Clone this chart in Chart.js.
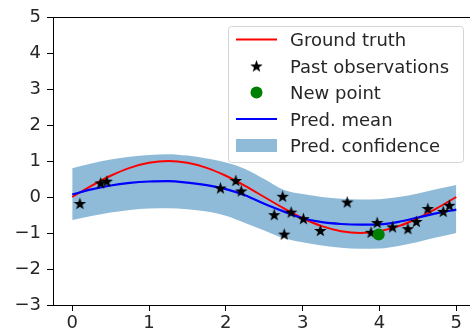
<!DOCTYPE html>
<html>
<head>
<meta charset="utf-8">
<script src="https://cdn.jsdelivr.net/npm/chart.js@4/dist/chart.umd.min.js"></script>
<style>
html,body{margin:0;padding:0;background:#fff;overflow:hidden;width:470px;height:331px;}
#wrap{position:absolute;left:0;top:0;width:483px;height:331px;}
</style>
</head>
<body>
<div id="wrap"><canvas id="c" width="483" height="331"></canvas></div>
<script>
// ---- data ----
const gridX = [0,0.25,0.5,0.75,1,1.25,1.5,1.75,2,2.25,2.5,2.75,3,3.25,3.5,3.75,4,4.25,4.5,4.75,5];
const truthY = [0,0.31,0.59,0.81,0.95,1.0,0.95,0.81,0.59,0.31,0,-0.31,-0.59,-0.81,-0.95,-1.0,-0.95,-0.81,-0.59,-0.31,0];
const meanY  = [0.07,0.21,0.32,0.39,0.43,0.44,0.40,0.33,0.22,0.05,-0.19,-0.40,-0.59,-0.70,-0.75,-0.77,-0.76,-0.69,-0.57,-0.45,-0.35];
const upperY = [0.80,0.93,1.04,1.12,1.17,1.19,1.15,1.07,0.96,0.78,0.50,0.20,0.08,0.00,-0.05,-0.07,-0.06,0.00,0.10,0.22,0.33];
const lowerY = [-0.64,-0.53,-0.43,-0.36,-0.32,-0.31,-0.34,-0.40,-0.52,-0.72,-0.93,-1.14,-1.26,-1.35,-1.41,-1.44,-1.43,-1.36,-1.25,-1.12,-1.00];
const obsX = [0.10,0.37,0.45,1.93,2.13,2.20,2.74,2.63,2.85,2.76,3.01,3.23,3.58,3.89,3.97,4.17,4.37,4.48,4.63,4.83,4.91];
const obsY = [-0.18,0.39,0.44,0.25,0.46,0.17,0.02,-0.49,-0.42,-1.03,-0.60,-0.93,-0.14,-0.98,-0.71,-0.83,-0.88,-0.68,-0.32,-0.40,-0.23];
const newX = [3.99];
const newY = [-1.04];
const xTicks = [0,1,2,3,4,5];
const yTicks = [-3,-2,-1,0,1,2,3,4,5];
const legendLabels = ["Ground truth","Past observations","New point","Pred. mean","Pred. confidence"];

const pts = (xs, ys) => xs.map((x,i)=>({x:x, y:ys[i]}));

// filled star marker (like matplotlib '*')
function makeStar(size){
  const c = document.createElement('canvas');
  c.width = size; c.height = size;
  const g = c.getContext('2d');
  const R = size/2, r = R*0.4, cx = size/2, cy = size/2 + 0.6;
  g.beginPath();
  for(let i=0;i<10;i++){
    const a = -Math.PI/2 + i*Math.PI/5;
    const rr = (i%2===0)?R:r;
    const px = cx + rr*Math.cos(a), py = cy + rr*Math.sin(a);
    if(i===0) g.moveTo(px,py); else g.lineTo(px,py);
  }
  g.closePath();
  g.fillStyle = '#000';
  g.fill();
  return c;
}
const star = makeStar(13);

const FONT = '"DejaVu Sans", "Liberation Sans", sans-serif';
const TXT = '#262626';
const minus = v => String(v).replace('-', '\u2212');

const framePlugin = {
  id:'frame',
  afterDraw(chart){
    const ctx = chart.ctx, a = chart.chartArea;
    ctx.save();
    ctx.strokeStyle = '#000'; ctx.lineWidth = 1;
    ctx.beginPath();
    ctx.moveTo(a.left, a.top+0.5); ctx.lineTo(a.right, a.top+0.5);
    ctx.moveTo(a.right-0.5, a.top); ctx.lineTo(a.right-0.5, a.bottom);
    ctx.stroke();

    // legend
    const bx = 228.5, by = 26.5, bw = 235, bh = 136;
    ctx.beginPath();
    ctx.roundRect(bx, by, bw, bh, 3);
    ctx.fillStyle = 'rgba(255,255,255,0.8)';
    ctx.fill();
    ctx.strokeStyle = '#d5d5d5'; ctx.lineWidth = 1;
    ctx.stroke();
    const rows = [39.5, 66, 92.5, 119, 145.5];
    const hx0 = 236, hx1 = 277, hc = 256.5;
    ctx.strokeStyle = '#ff0000'; ctx.lineWidth = 2;
    ctx.beginPath(); ctx.moveTo(hx0, rows[0]); ctx.lineTo(hx1, rows[0]); ctx.stroke();
    ctx.drawImage(star, hc-6.5, rows[1]-6.5);
    ctx.fillStyle = '#008000';
    ctx.beginPath(); ctx.arc(hc, rows[2], 6, 0, Math.PI*2); ctx.fill();
    ctx.strokeStyle = '#0000ff'; ctx.lineWidth = 2.2;
    ctx.beginPath(); ctx.moveTo(hx0, rows[3]); ctx.lineTo(hx1, rows[3]); ctx.stroke();
    ctx.fillStyle = 'rgba(31,119,180,0.5)';
    ctx.fillRect(hx0, rows[4]-6.5, hx1-hx0, 13);
    ctx.fillStyle = TXT;
    ctx.font = '18px ' + FONT;
    ctx.textBaseline = 'alphabetic';
    ctx.textAlign = 'left';
    legendLabels.forEach((t,i)=>ctx.fillText(t, 290, rows[i]+6.6));
    ctx.restore();
  }
};

new Chart(document.getElementById('c'), {
  type:'scatter',
  data:{
    datasets:[
      {label:'upper', data:pts(gridX, upperY), showLine:true, fill:'+1',
       backgroundColor:'rgba(31,119,180,0.5)', borderColor:'rgba(0,0,0,0)', borderWidth:0,
       pointRadius:0, cubicInterpolationMode:'monotone', order:10},
      {label:'lower', data:pts(gridX, lowerY), showLine:true, fill:false,
       borderColor:'rgba(0,0,0,0)', borderWidth:0, pointRadius:0,
       cubicInterpolationMode:'monotone', order:9},
      {label:legendLabels[0], data:pts(gridX, truthY), showLine:true, fill:false,
       borderColor:'#ff0000', borderWidth:2, pointRadius:0, cubicInterpolationMode:'monotone', order:5},
      {label:legendLabels[3], data:pts(gridX, meanY), showLine:true, fill:false,
       borderColor:'#0000ff', borderWidth:2.2, pointRadius:0, cubicInterpolationMode:'monotone', order:4},
      {label:legendLabels[1], data:pts(obsX, obsY), showLine:false,
       pointStyle:star, pointRadius:6.5, order:3},
      {label:legendLabels[2], data:pts(newX, newY), showLine:false,
       pointStyle:'circle', pointRadius:6, pointBackgroundColor:'#008000', pointBorderWidth:0,
       backgroundColor:'#008000', borderColor:'#008000', order:2}
    ]
  },
  options:{
    responsive:false,
    animation:false,
    events:[],
    layout:{padding:{top:17, right:2, left:0, bottom:0}},
    plugins:{legend:{display:false}, tooltip:{enabled:false}},
    scales:{
      x:{type:'linear', min:-0.25, max:5.25,
        afterBuildTicks(s){ s.ticks = xTicks.map(v=>({value:v})); },
        afterFit(s){ s.height = 26; },
        grid:{display:true, drawOnChartArea:false, drawTicks:true, tickLength:6, tickColor:'#000', tickWidth:1},
        border:{display:true, color:'#000', width:1},
        ticks:{color:TXT, font:{family:FONT, size:18}, padding:2, maxRotation:0, autoSkip:false,
          callback:v=>minus(v)}
      },
      y:{type:'linear', min:-3, max:5,
        afterBuildTicks(s){ s.ticks = yTicks.map(v=>({value:v})); },
        afterFit(s){ s.width = 53; },
        grid:{display:true, drawOnChartArea:false, drawTicks:true, tickLength:6, tickColor:'#000', tickWidth:1},
        border:{display:true, color:'#000', width:1},
        ticks:{color:TXT, font:{family:FONT, size:18}, padding:6, autoSkip:false,
          callback:v=>minus(v)}
      }
    }
  },
  plugins:[framePlugin]
});
</script>
</body>
</html>
